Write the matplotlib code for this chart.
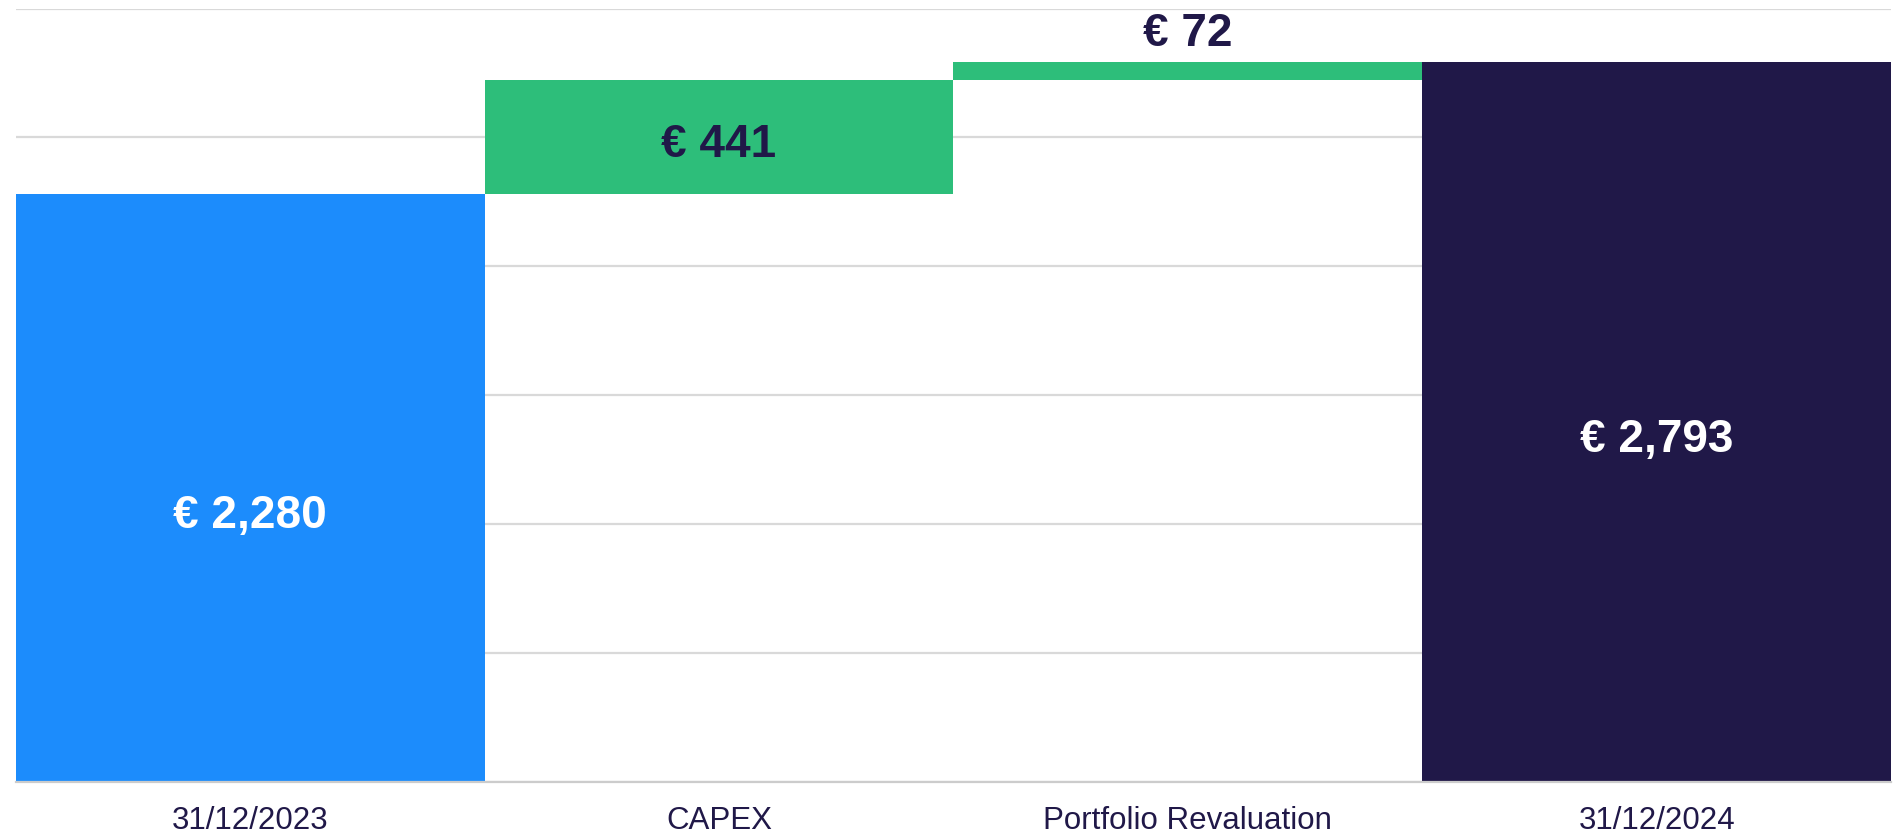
import matplotlib.pyplot as plt

# waterfall data
categories = ["31/12/2023", "CAPEX", "Portfolio Revaluation", "31/12/2024"]
start_value = 2280
changes = [441, 72]
end_value = 2793

plt.rcParams["font.family"] = ["Liberation Sans", "DejaVu Sans"]

navy = "#201848"
blue = "#1c8cfc"
green = "#2dbe7a"

bottoms = [0, start_value, start_value + changes[0], 0]
heights = [start_value, changes[0], changes[1], end_value]
colors = [blue, green, green, navy]

fig = plt.figure(figsize=(18.95, 8.36), dpi=100)
ax = fig.add_axes([0.0083, 0.0646, 0.9897, 0.9252])

x = range(len(categories))
ax.bar(x, heights, bottom=bottoms, width=1.0, color=colors, zorder=2)

ax.set_xlim(-0.5, 3.5)
ax.set_ylim(0, 3000)
ax.set_yticks(range(0, 3001, 500))
ax.yaxis.grid(True, color="#d9d9d9", linewidth=1.6, zorder=0)
ax.set_axisbelow(True)
ax.tick_params(axis="y", left=False, labelleft=False)
ax.tick_params(axis="x", length=0, pad=17, labelsize=22.5, labelcolor=navy)
ax.set_xticks(list(x))
ax.set_xticklabels(categories)
for s in ["top", "left", "right"]:
    ax.spines[s].set_visible(False)
ax.spines["bottom"].set_color("#cccccc")
ax.spines["bottom"].set_linewidth(1.6)

# value labels
lbl = dict(ha="center", va="center", fontsize=33, fontweight="bold", zorder=3)
ax.text(0, start_value / 2 - 110, f"€ {start_value:,}", color="white", **lbl)
ax.text(1, bottoms[1] + changes[0] / 2 - 30, f"€ {changes[0]:,}", color=navy, **lbl)
ax.text(2, bottoms[2] + changes[1] + 110, f"€ {changes[1]:,}", color=navy, **lbl)
ax.text(3, end_value / 2 - 70, f"€ {end_value:,}", color="white", **lbl)

fig.savefig("out.png", dpi=100)
